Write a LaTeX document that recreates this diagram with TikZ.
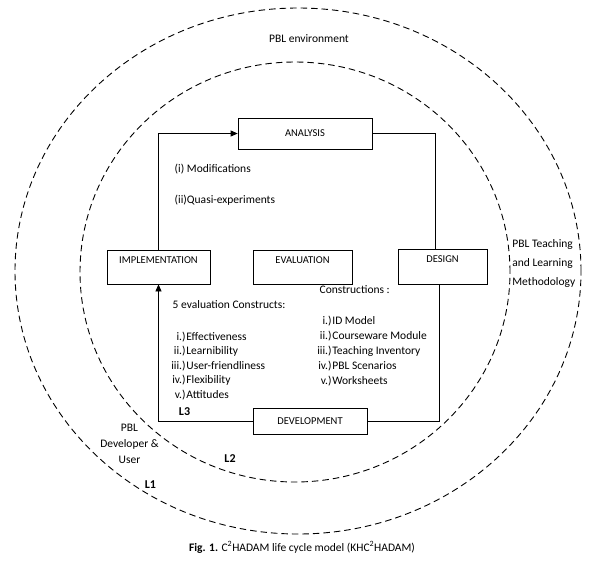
\documentclass[tikz,border=0pt]{standalone}
\usepackage{fontspec}
\setmainfont{Carlito}
\usepackage{tikz}
\usetikzlibrary{arrows.meta, positioning}

\begin{document}
\begin{tikzpicture}[x=1pt, y=-1pt, line width=0.8pt,
      every node/.style={font=\fontsize{11.5}{14}\selectfont},
      ring/.style={dash pattern=on 6.5pt off 4pt, line width=0.9pt},
      stage/.style={draw, line width=0.7pt, font=\fontsize{10.5}{12}\selectfont, inner sep=0pt},
      topstage/.style={stage, text height=7pt, text depth=15pt},
      lvl/.style={font=\fontsize{12}{14}\selectfont\bfseries},
      flow/.style={line width=0.7pt},
      tip/.style={-{Triangle[length=7pt, width=6pt]}}]
    \useasboundingbox (0,0) rectangle (594,560);
    % layers
    \draw[ring] (298,271) ellipse [x radius=283pt, y radius=263pt];
    \draw[ring] (295,272) ellipse [x radius=215pt, y radius=210pt];
    % stages
    \node[stage, minimum width=134pt, minimum height=31pt] (ana) at (305,133.5) {ANALYSIS};
    \node[topstage, minimum width=103pt, minimum height=34pt] (impl) at (158.5,267) {IMPLEMENTATION};
    \node[topstage, minimum width=99pt, minimum height=34pt] (eval) at (302.5,267) {EVALUATION};
    \node[topstage, minimum width=89pt, minimum height=35pt] (des) at (442.5,266.5) {DESIGN};
    \node[stage, minimum width=114pt, minimum height=26pt] (dev) at (310,421) {DEVELOPMENT};
    % cycle
    \draw[flow, tip] (impl.north) |- (ana.west);
    \draw[flow] (ana.east) -| ([xshift=-7pt]des.north);
    \draw[flow] ([xshift=-3.5pt]des.south) |- (dev.east);
    \draw[flow, tip] (dev.west) -| (impl.south);
    % texts
    \node[anchor=base] (env) at (309,42) {PBL environment};
    \node[anchor=base west] (mod) at (171,172) {(i) Modifications};
    \node[anchor=base west] (quasi) at (171,203) {(ii)Quasi-experiments};
    \node[anchor=base west] (evalhd) at (169,308) {5 evaluation Constructs:};
    \node[anchor=base west] (conshd) at (316,293) {Constructions :};
    \foreach \n/\y/\num/\txt in {e1/340/i./Effectiveness, e2/354.5/ii./Learnibility,
        e3/369/iii./User-friendliness, e4/383.5/iv./Flexibility, e5/398/v./Attitudes} {
      \node[anchor=base east, inner xsep=0pt] (\n n) at (186,\y) {\num)};
      \node[anchor=base west, inner xsep=0pt] (\n t) at (186,\y) {\txt};
    }
    \foreach \n/\y/\num/\txt in {c1/324/i./ID Model, c2/339/ii./Courseware Module,
        c3/354/iii./Teaching Inventory, c4/369/iv./PBL Scenarios, c5/384/v./Worksheets} {
      \node[anchor=base east, inner xsep=0pt] (\n n) at (332,\y) {\num)};
      \node[anchor=base west, inner xsep=0pt] (\n t) at (332,\y) {\txt};
    }
    \node[lvl, anchor=base] (l3) at (184.5,415) {L3};
    \node[lvl, anchor=base] (l2) at (230,462) {L2};
    \node[lvl, anchor=base] (l1) at (150.5,488) {L1};
    \foreach \n/\y/\txt in {u1/431/PBL, u2/447/Developer \&, u3/463/User}
      \node[anchor=base] (\n) at (129.5,\y) {\txt};
    \foreach \n/\y/\txt in {m1/247/PBL Teaching, m2/266/and Learning, m3/285/Methodology}
      \node[anchor=base west, inner xsep=0pt] (\n) at (512,\y) {\txt};
    \node[anchor=base] (cap) at (302,551)
      {\textbf{Fig. 1.} C\textsuperscript{2}HADAM life cycle model (KHC\textsuperscript{2}HADAM)};
  \end{tikzpicture}
\end{document}
